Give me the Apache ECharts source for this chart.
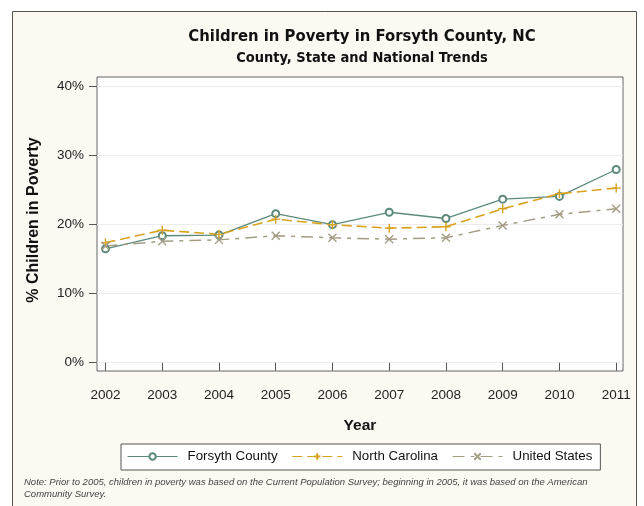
<!DOCTYPE html>
<html><head><meta charset="utf-8">
<script src="https://cdn.jsdelivr.net/npm/echarts@6/dist/echarts.min.js"></script>
<style>html,body{margin:0;padding:0;background:#fff}#c{width:644px;height:506px}</style>
</head><body><div id="c"></div>
<script>
const years = [2002, 2003, 2004, 2005, 2006, 2007, 2008, 2009, 2010, 2011];
const forsyth = [16.5, 18.4, 18.5, 21.6, 20.0, 21.8, 20.9, 23.7, 24.1, 28.0];
const northCarolina = [17.4, 19.2, 18.6, 20.8, 20.0, 19.5, 19.7, 22.3, 24.5, 25.3];
const unitedStates = [16.9, 17.6, 17.8, 18.4, 18.1, 17.9, 18.1, 19.9, 21.5, 22.3];
const yTicks = [0, 10, 20, 30, 40];
const seriesNames = ['Forsyth County', 'North Carolina', 'United States'];

const font = 'Liberation Sans, Arial, sans-serif';
const narrow = '"Liberation Sans Narrow", "DejaVu Sans Condensed", "Liberation Sans", Arial, sans-serif';
const chart = echarts.init(document.getElementById('c'), null, {renderer: 'canvas'});
const pair = arr => years.map((y, i) => [y, arr[i]]);
const cFor = '#5b8a7c', cNC = '#d9a21e', cUS = '#a49c85';
chart.setOption({
  animation: false,
  backgroundColor: '#fff',
  graphic: [
    {type: 'rect', z: -100, shape: {x: 12.5, y: 11.5, width: 624, height: 510},
     style: {fill: '#fcf9f2', stroke: '#555', lineWidth: 1}},
    {type: 'text', left: 24, top: 476, z: 10,
     style: {text: 'Note: Prior to 2005, children in poverty was based on the Current Population Survey; beginning in 2005, it was based on the American\nCommunity Survey.',
       font: 'italic 9.5px ' + font, fill: '#444', lineHeight: 12}}
  ],
  title: {
    text: 'Children in Poverty in Forsyth County, NC',
    subtext: 'County, State and National Trends',
    left: 357, top: 23, itemGap: 6, textAlign: 'center',
    textStyle: {fontFamily: narrow, fontWeight: 'bold', fontSize: 16.5, color: '#111'},
    subtextStyle: {fontFamily: narrow, fontWeight: 'bold', fontSize: 14.5, color: '#111'}
  },
  grid: {left: 97, top: 77, right: 21, bottom: 135, show: true, backgroundColor: '#fff', borderColor: '#666', borderWidth: 1},
  legend: {
    top: 444, left: 121, data: seriesNames,
    backgroundColor: '#fff', borderColor: '#555', borderWidth: 1,
    padding: [6, 8, 7, 6], itemGap: 14, itemWidth: 50, itemHeight: 8,
    lineStyle: {width: 1.1},
    textStyle: {fontFamily: font, fontSize: 13.3, color: '#111', padding: [0, 0, 0, 5]}
  },
  xAxis: {
    type: 'value', min: 2001.85, max: 2011.12,
    name: 'Year', nameLocation: 'middle', nameGap: 47,
    nameTextStyle: {fontFamily: font, fontWeight: 'bold', fontSize: 15.5, color: '#111'},
    axisLine: {show: false},
    axisTick: {show: true, inside: false, length: 8, customValues: years, lineStyle: {color: '#555'}},
    axisLabel: {customValues: years, margin: 17, fontFamily: font, fontSize: 13.5, color: '#222', formatter: v => String(v)},
    splitLine: {show: false}
  },
  yAxis: {
    type: 'value', min: -1.2, max: 41.4,
    name: '% Children in Poverty', nameLocation: 'middle', nameGap: 55, nameRotate: 90,
    nameTextStyle: {fontFamily: font, fontWeight: 'bold', fontSize: 16, color: '#111', padding: [0, 0, 0, 8]},
    axisLine: {show: false},
    axisTick: {show: true, length: 8, customValues: yTicks, lineStyle: {color: '#555'}},
    axisLabel: {customValues: yTicks, margin: 13, fontFamily: font, fontSize: 13.5, color: '#222', formatter: v => v + '%'},
    splitLine: {show: true, lineStyle: {color: '#ececec', width: 1}}
  },
  series: [
    {name: seriesNames[0], type: 'line', data: pair(forsyth),
     symbol: 'emptyCircle', symbolSize: 7,
     itemStyle: {color: cFor, borderColor: cFor, borderWidth: 1.2},
     lineStyle: {color: cFor, width: 1.3, type: 'solid'}},
    {name: seriesNames[1], type: 'line', data: pair(northCarolina),
     symbol: 'path://M5,0L5,10M0,5L10,5', symbolSize: 9,
     itemStyle: {color: 'rgba(0,0,0,0)', borderColor: cNC, borderWidth: 1.4},
     lineStyle: {color: cNC, width: 1.6, type: [10, 5]}},
    {name: seriesNames[2], type: 'line', data: pair(unitedStates),
     symbol: 'path://M0,0L10,10M10,0L0,10', symbolSize: 8,
     itemStyle: {color: 'rgba(0,0,0,0)', borderColor: cUS, borderWidth: 1.4},
     lineStyle: {color: cUS, width: 1.5, type: [12, 6, 4, 6]}}
  ]
});
</script></body></html>
